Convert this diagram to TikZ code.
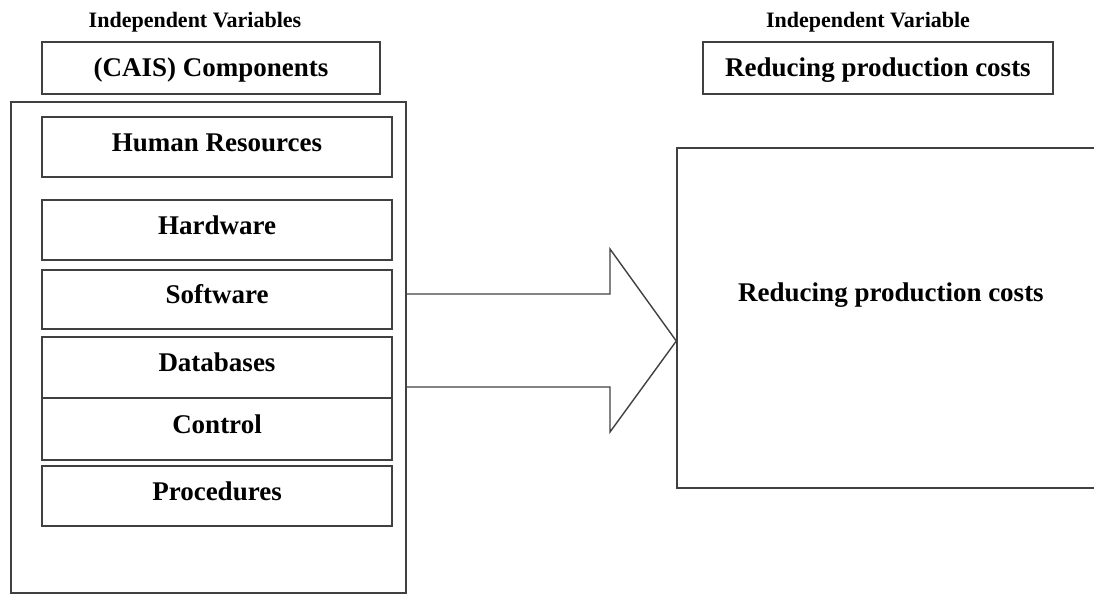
\documentclass[tikz,border=0pt]{standalone}
\usepackage{fontspec}
\setmainfont{Liberation Serif}
\usetikzlibrary{positioning}
\tikzset{
  frame/.style={draw=black!75, line width=1.4pt},
  compbox/.style={frame, minimum width=350pt, text height=20pt, text depth=12pt,
    inner sep=0pt, font=\fontsize{27}{30}\selectfont\bfseries},
  headbox/.style={frame, minimum height=52pt, text height=18pt, text depth=0pt,
    inner sep=0pt, font=\fontsize{27}{30}\selectfont\bfseries},
  varlabel/.style={anchor=base, inner sep=0pt, font=\fontsize{22}{24}\selectfont\bfseries}
}

\begin{document}
\begin{tikzpicture}[x=1pt, y=-1pt]
  \useasboundingbox (0,0) rectangle (1094,594);
  % left side
  \node[varlabel] (ivs) at (195,28) {Independent Variables};
  \node[headbox, minimum width=338pt] (cais) at (211,68) {(CAIS) Components};
  \node[frame, minimum width=395pt, minimum height=491pt] (comps) at (208.5,347.5) {};
  \node[compbox, minimum height=60pt] (human) at (217,147) {Human Resources};
  \node[compbox, minimum height=60pt] (hard) at (217,230) {Hardware};
  \node[compbox, minimum height=59pt] (soft) at (217,299.5) {Software};
  \node[compbox, minimum height=61pt] (data) at (217,367.5) {Databases};
  \node[compbox, minimum height=62pt] (ctrl) at (217,429) {Control};
  \node[compbox, minimum height=60pt] (proc) at (217,496) {Procedures};
  % right side
  \node[varlabel] (iv) at (868,28) {Independent Variable};
  \node[headbox, minimum width=350pt] (rtop) at (878,68) {Reducing production costs};
  \node[frame, minimum width=428pt, minimum height=340pt, text height=18pt, text depth=52pt,
    font=\fontsize{27}{30}\selectfont\bfseries] (costs) at (891,318) {Reducing production costs};
  % block arrow
  \draw[frame, line join=miter] (comps.east |- 0,294) -- (610,294) -- (610,249)
    -- (costs.west |- 0,341) -- (610,432) -- (610,387) -- (comps.east |- 0,387);
\end{tikzpicture}
\end{document}
